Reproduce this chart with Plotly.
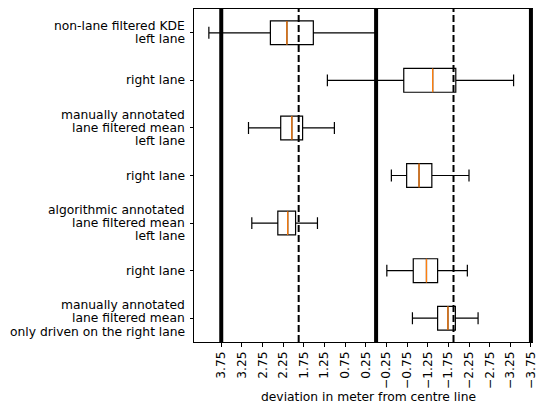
import plotly.graph_objects as go

# Row labels (one list of text lines per box, top to bottom)
row_labels = [
    ["non-lane filtered KDE", "left lane"],
    ["right lane"],
    ["manually annotated", "lane filtered mean", "left lane"],
    ["right lane"],
    ["algorithmic annotated", "lane filtered mean", "left lane"],
    ["right lane"],
    ["manually annotated", "lane filtered mean", "only driven on the right lane"],
]
positions = [1, 2, 3, 4, 5, 6, 7]

# Box statistics, deviation in metres
whisker_low = [0.00, -3.33, 1.01, -2.25, 1.42, -2.21, -2.47]
q1 = [1.52, -1.93, 1.78, -1.35, 1.95, -1.49, -1.92]
median = [2.16, -1.37, 2.04, -1.04, 2.14, -1.22, -1.74]
q3 = [2.56, -0.67, 2.31, -0.74, 2.38, -0.90, -1.49]
whisker_high = [4.05, 1.18, 3.09, -0.37, 3.01, -0.26, -0.88]

# Lane geometry: road edges / centre line and lane centres
lane_edges = [3.75, 0.0, -3.75]
lane_centres = [1.875, -1.875]

tick_values = [3.75 - 0.5 * i for i in range(16)]
tick_text = [f"{v:.2f}".replace("-", "\u2212") for v in tick_values]

FONT = "DejaVu Sans"
FS = 12.3
BOX_W = 0.5

fig = go.Figure()

for xv in lane_centres:
    fig.add_vline(x=xv, line=dict(color="black", width=2, dash="7px,3px"), layer="below")
for xv in lane_edges:
    fig.add_vline(x=xv, line=dict(color="black", width=4), layer="below")

fig.add_trace(go.Box(
    y=positions, q1=q1, median=median, q3=q3,
    lowerfence=whisker_low, upperfence=whisker_high,
    orientation="h", width=BOX_W, whiskerwidth=0.5,
    line=dict(color="black", width=1.2),
    fillcolor="rgba(0,0,0,0)", boxpoints=False,
    hoverinfo="skip", showlegend=False,
))

# Orange median marks on top of each box
mx, my = [], []
for p, m in zip(positions, median):
    mx += [m, m, None]
    my += [p - BOX_W / 2, p + BOX_W / 2, None]
fig.add_trace(go.Scatter(
    x=mx, y=my, mode="lines",
    line=dict(color="#ff7f0e", width=1.3),
    hoverinfo="skip", showlegend=False,
))

# Multi-line row labels, right aligned against the y axis
LINE_H = 13.3
for p, lines in zip(positions, row_labels):
    n = len(lines)
    for i, t in enumerate(lines):
        fig.add_annotation(
            x=0, xref="paper", y=p, yref="y",
            text=t, showarrow=False,
            xanchor="right", yanchor="middle",
            xshift=-7, yshift=-(i - (n - 1) / 2) * LINE_H,
            font=dict(family=FONT, size=FS, color="black"),
        )

fig.add_annotation(
    x=0.515, xref="paper", y=-0.165, yref="paper",
    text="deviation in meter from centre line", showarrow=False,
    xanchor="center", yanchor="middle",
    font=dict(family=FONT, size=FS, color="black"),
)

fig.update_xaxes(
    range=[4.41, -3.80], automargin=False,
    tickmode="array", tickvals=tick_values, ticktext=tick_text,
    tickangle=-90, ticks="outside", ticklen=3.5, tickwidth=0.8, tickcolor="black",
    showline=True, linecolor="black", linewidth=1, mirror=True,
    showgrid=False, zeroline=False,
    tickfont=dict(family=FONT, size=FS, color="black"),
)
fig.update_yaxes(
    range=[7.5, 0.5], automargin=False,
    tickmode="array", tickvals=positions, ticktext=[""] * len(positions),
    ticks="outside", ticklen=3.5, tickwidth=0.8, tickcolor="black",
    showline=True, linecolor="black", linewidth=1, mirror=False,
    showgrid=False, zeroline=False,
)

fig.update_layout(
    width=539, height=408,
    margin=dict(l=194, r=5.5, t=9, b=66, autoexpand=False),
    paper_bgcolor="white", plot_bgcolor="white",
    font=dict(family=FONT, size=FS, color="black"),
)

fig.write_html("out.html")
